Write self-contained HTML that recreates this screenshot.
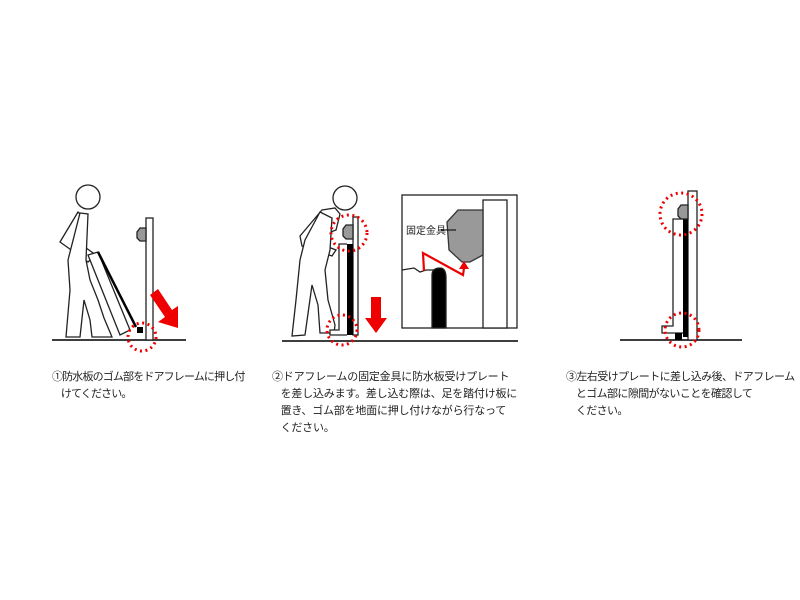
<!DOCTYPE html>
<html><head><meta charset="utf-8"><style>
body{margin:0;background:#fff;width:800px;height:600px;overflow:hidden;position:relative;font-family:"Liberation Sans","Noto Sans CJK JP",sans-serif;}
.t{position:absolute;font-size:11px;line-height:17px;color:#222;white-space:nowrap;letter-spacing:-0.2px}
svg{position:absolute;left:0;top:0}
</style></head><body>
<svg width="800" height="600" viewBox="0 0 800 600">
<g fill="none" stroke="#222" stroke-width="1.3">
<line x1="52" y1="340" x2="186" y2="340" stroke-width="1.8"/>
<circle cx="88" cy="197" r="12" fill="#fff"/>
<path d="M78 212 L60 242 L88 262 L96 255 L75 240 L86 220 Z" fill="#fff"/>
<path d="M80 213 L88 214 L86 260 L90 280 L98 300 L104 318 L112 337 L92 337 L90 320 L84 300 L80 337 L66 337 L70 290 L68 260 Z" fill="#fff"/>
<path d="M88 255 L98 252 L130 330 L120 335 Z" fill="#fff"/>
<path d="M98 252 L136 327" stroke="#000" stroke-width="2.5"/>
<rect x="146" y="218" width="7" height="122" fill="#fff"/>
<path d="M146 228 L140 228 L137 232 L137 238 L140 241 L146 241 Z" fill="#999"/>
<rect x="137" y="327" width="6" height="6" fill="#000" stroke="none"/>
<line x1="282" y1="341" x2="518" y2="341" stroke-width="1.8"/>
<circle cx="345" cy="198" r="12" fill="#fff"/>
<path d="M322 210 L335 208 L340 214 L336 230 L310 240 L336 250 L332 256 L302 246 L300 236 Z" fill="#fff"/>
<path d="M320 212 L332 218 L330 250 L325 270 L328 300 L335 325 L334 333 L320 333 L318 305 L312 285 L305 335 L292 336 L296 300 L300 260 L305 240 Z" fill="#fff"/>
<rect x="353" y="217" width="5" height="118" fill="#fff"/>
<rect x="347" y="244" width="6" height="91" fill="#000" stroke="none"/>
<path d="M347 244 L339 244 L339 330 L330 330 L330 335 L347 335" fill="#fff"/>
<path d="M353 225 L346 225 L343 229 L343 236 L346 239 L353 239 Z" fill="#999"/>
<rect x="402" y="195" width="115" height="133" fill="#fff"/>
<rect x="483" y="200" width="24" height="128" fill="#fff"/>
<path d="M458 210 L483 210 L483 255 L470 262 L462 262 L449 250 L447 222 Z" fill="#999" stroke="#333"/>
<line x1="441" y1="230" x2="456" y2="230"/>
<path d="M402 270 L414 268 L420 272 L426 270 L442 270" />
<path d="M432 328 L432 275 Q432 268 440 268 Q446 268 446 278 L446 328 Z" fill="#000"/>
<path d="M424 271 L423 253 L463 275 L464 268" stroke="#e00" stroke-width="2.2" stroke-linejoin="miter"/>
</g>
<polygon points="459,269 469,269 464,261" fill="#e00"/>
<g fill="none" stroke="#222" stroke-width="1.3">
<line x1="620" y1="340" x2="742" y2="340" stroke-width="1.8"/>
<rect x="688" y="191" width="9" height="149" fill="#fff"/>
<rect x="683" y="219" width="5" height="118" fill="#000" stroke="none"/>
<path d="M683 219 L673 219 L673 326 L662 326 L662 333 L683 333" fill="#fff"/>
<path d="M688 205 L681 205 L678 209 L678 216 L681 219 L688 219 Z" fill="#999"/>
<rect x="675" y="333" width="7" height="7" fill="#000" stroke="none"/>
</g>
<g fill="none" stroke="#e00" stroke-width="3" stroke-dasharray="2 3.5">
<circle cx="142" cy="337" r="14"/>
<circle cx="349" cy="233" r="18"/>
<circle cx="342" cy="330" r="15"/>
<circle cx="681" cy="214" r="21"/>
<circle cx="682" cy="330" r="17"/>
</g>
<polygon points="150,295 158,289 172,310 178,306 178,328 158,322 165,317" fill="#e00"/>
<polygon points="371,297 381,297 381,318 387,318 376,333 365,318 371,318" fill="#e00"/>
<text x="406" y="234" font-size="10" fill="#222" font-family="Liberation Sans,Noto Sans CJK JP,sans-serif">固定金具</text>
</svg>
<div class="t" style="left:52px;top:369px;letter-spacing:-0.85px">①防水板のゴム部をドアフレームに押し付<br>&nbsp;&nbsp;&nbsp;&nbsp;けてください。</div>
<div class="t" style="left:272px;top:369px">②ドアフレームの固定金具に防水板受けプレート<br>&nbsp;&nbsp;&nbsp;を差し込みます。差し込む際は、足を踏付け板に<br>&nbsp;&nbsp;&nbsp;置き、ゴム部を地面に押し付けながら行なって<br>&nbsp;&nbsp;&nbsp;ください。</div>
<div class="t" style="left:566px;top:369px;letter-spacing:-0.6px">③左右受けプレートに差し込み後、ドアフレーム<br>&nbsp;&nbsp;&nbsp;&nbsp;とゴム部に隙間がないことを確認して<br>&nbsp;&nbsp;&nbsp;&nbsp;ください。</div>
</body></html>
